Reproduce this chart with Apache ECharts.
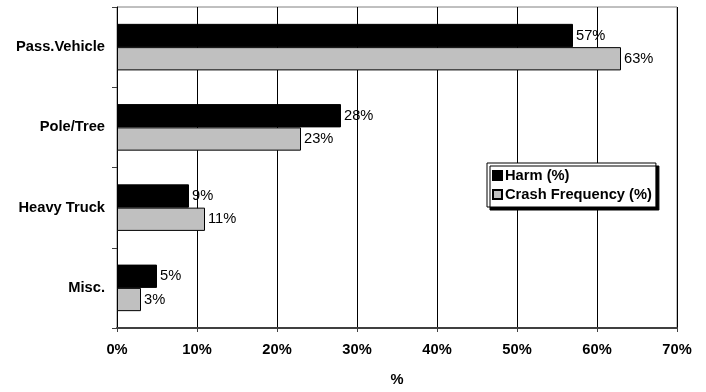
<!DOCTYPE html>
<html>
<head>
<meta charset="utf-8">
<script src="https://cdn.jsdelivr.net/npm/echarts@6/dist/echarts.min.js"></script>
<style>
  html, body { margin: 0; padding: 0; background: #fff; }
  #chart { width: 706px; height: 392px; }
</style>
</head>
<body>
<div id="chart"></div>
<script>
// Crash object categories, listed top to bottom
const categories = ['Pass.Vehicle', 'Pole/Tree', 'Heavy Truck', 'Misc.'];
// Share of harm per object type (%)
const harm = [57, 28, 9, 5];
// Share of crash frequency per object type (%)
const crashFrequency = [63, 23, 11, 3];
// Value axis range (%)
const axisMin = 0;
const axisMax = 70;
const axisStep = 10;

const FONT = 'Liberation Sans, Arial, sans-serif';
const FS = 14.7;

const chart = echarts.init(document.getElementById('chart'), null, { renderer: 'canvas' });

const labelStyle = {
  show: true,
  position: 'right',
  distance: 3,
  color: '#000',
  fontFamily: FONT,
  fontSize: FS,
  formatter: p => Math.round(p.value) + '%'
};

chart.setOption({
  animation: false,
  backgroundColor: '#fff',
  grid: {
    left: 117, right: 29, top: 7, bottom: 60,
    show: true,
    borderColor: '#808080',
    borderWidth: 1,
    backgroundColor: 'transparent'
  },
  legend: {
    orient: 'vertical',
    left: 487, top: 163,
    backgroundColor: '#fff',
    borderColor: '#000',
    borderWidth: 1,
    shadowColor: '#000',
    shadowBlur: 0,
    shadowOffsetX: 3,
    shadowOffsetY: 3,
    padding: [4, 4, 4, 5],
    itemGap: 2,
    itemWidth: 9,
    itemHeight: 9,
    icon: 'rect',
    textStyle: {
      fontFamily: FONT, fontSize: FS, fontWeight: 'bold', color: '#000',
      lineHeight: 17, padding: [0, 0, 0, -2]
    },
    data: ['Harm (%)', 'Crash Frequency (%)']
  },
  xAxis: {
    type: 'value',
    min: axisMin, max: axisMax, interval: axisStep,
    name: '%',
    nameLocation: 'middle',
    nameGap: 44,
    nameTextStyle: { fontFamily: FONT, fontSize: FS, fontWeight: 'bold', color: '#000', verticalAlign: 'top' },
    axisLine: { show: true, lineStyle: { color: '#404040', width: 2 } },
    axisTick: { show: true, length: 4, lineStyle: { color: '#404040' } },
    axisLabel: {
      margin: 14,
      fontFamily: FONT, fontSize: FS, fontWeight: 'bold', color: '#000',
      formatter: '{value}%'
    },
    splitLine: { show: true, lineStyle: { color: '#000', width: 1 } }
  },
  yAxis: {
    type: 'category',
    inverse: true,
    data: categories,
    axisLine: { show: true, lineStyle: { color: '#000', width: 1 } },
    axisTick: { show: true, length: 5, lineStyle: { color: '#404040' } },
    axisLabel: {
      margin: 12,
      fontFamily: FONT, fontSize: FS, fontWeight: 'bold', color: '#000'
    },
    splitLine: { show: false }
  },
  series: [
    {
      name: 'Harm (%)',
      type: 'bar',
      data: harm,
      barGap: '0%',
      barCategoryGap: '42%',
      itemStyle: { color: '#000', borderColor: '#000', borderWidth: 1 },
      label: labelStyle
    },
    {
      name: 'Crash Frequency (%)',
      type: 'bar',
      data: crashFrequency,
      itemStyle: { color: '#c0c0c0', borderColor: '#000', borderWidth: 1 },
      label: labelStyle
    }
  ]
});
</script>
</body>
</html>
